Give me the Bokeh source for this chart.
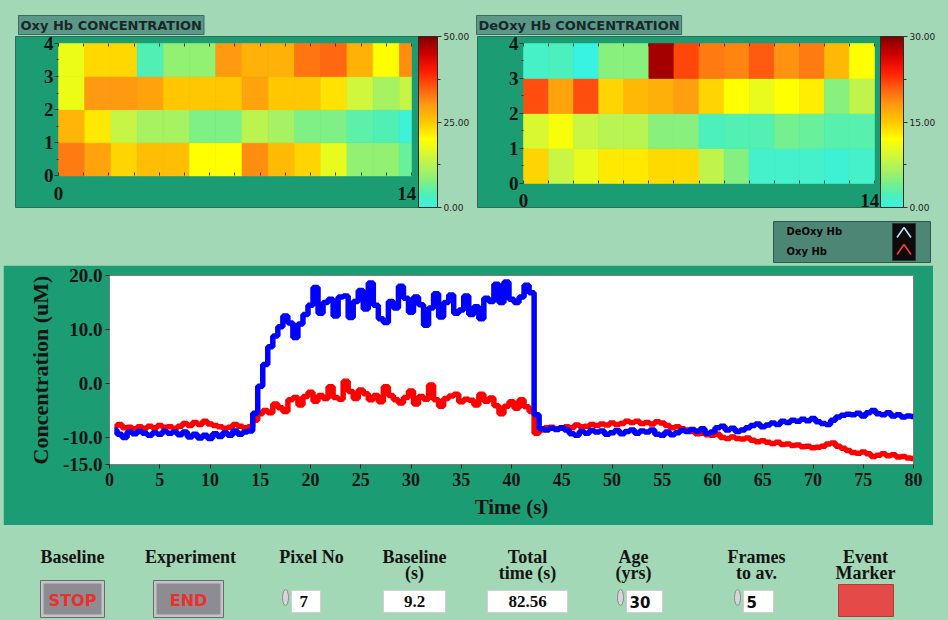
import numpy as np
from bokeh.plotting import figure
from bokeh.models import (Range1d, LinearAxis, FixedTicker, ColorBar, LinearColorMapper,
                          NumeralTickFormatter, Title, Spacer, ColumnDataSource)
from bokeh.layouts import column, row
from bokeh.embed import file_html
from bokeh.resources import INLINE
from bokeh.core.properties import value

# ------------------------------------------------------------------ data
# Oxy Hb intensity map, rows from y=0 (bottom) to y=3 (top), 14 columns
oxy_map = [
    [32.5, 29.0, 24.0, 26.0, 26.0, 20.0, 20.0, 31.0, 26.5, 24.0, 17.5, 9.0, 9.0, 6.0],
    [27.0, 22.0, 14.0, 11.0, 11.0, 7.5, 7.5, 13.0, 11.0, 7.5, 7.5, 5.0, 4.0, 1.0],
    [18.0, 30.0, 30.0, 29.0, 25.0, 25.0, 25.0, 29.0, 25.0, 25.0, 22.5, 15.0, 11.0, 14.0],
    [18.0, 23.5, 23.5, 4.0, 9.0, 9.0, 30.0, 27.5, 27.5, 33.0, 34.0, 27.5, 20.0, 31.0],
]
# DeOxy Hb intensity map, rows from y=0 (bottom) to y=3 (top), 14 columns
deoxy_map = [
    [14.4, 8.5, 10.5, 13.2, 13.2, 14.0, 14.0, 8.0, 4.7, 1.2, 1.2, 1.2, 0.8, 1.3],
    [9.5, 11.5, 8.5, 7.5, 7.5, 5.0, 5.0, 2.0, 2.5, 2.5, 4.0, 3.6, 2.8, 2.8],
    [21.6, 17.4, 21.6, 14.4, 16.0, 16.6, 17.8, 14.4, 12.0, 10.5, 12.0, 13.0, 5.0, 8.0],
    [1.5, 2.1, 0.0, 5.0, 5.0, 28.5, 22.0, 19.5, 19.0, 21.0, 18.3, 19.5, 16.0, 12.0],
]
oxy_scale_max = 50.0
deoxy_scale_max = 30.0
oxy_bar_ticks = [0, 25, 50]
deoxy_bar_ticks = [0, 15, 30]

# time course (uM), one sample every 0.5 s from 0.5 s to 80 s
sample_interval_s = 0.5
deoxy_hb = [
    -8.6, -9.4, -10.0, -9.0, -9.3, -8.9, -9.2, -9.6, -9.1, -9.4,
    -8.9, -9.2, -9.0, -9.5, -9.0, -9.9, -9.4, -10.1, -9.6, -10.2,
    -9.3, -9.8, -9.1, -9.6, -8.8, -9.4, -9.0, -8.8,
    -5.5, -0.5, 3.5, 6.8, 8.8, 10.5, 12.5, 11.2, 8.5, 11.0,
    12.8, 14.5, 17.8, 13.0, 15.0, 15.6, 12.5, 16.0, 16.2, 12.2,
    15.2, 17.2, 13.8, 18.6, 14.5, 12.0, 11.3, 15.2, 14.0, 18.0,
    15.8, 13.2, 16.0, 14.6, 10.8, 14.0, 16.6, 12.3, 15.0, 16.4,
    13.0, 13.6, 16.2, 12.8, 14.2, 12.0, 15.8, 15.2, 18.4, 15.0,
    18.8, 15.6, 15.0, 16.0, 18.2, 16.8,
    -5.8, -8.4, -8.6, -8.3, -8.5, -8.2, -8.6, -9.3, -9.6, -8.9,
    -9.2, -8.7, -9.0, -8.8, -9.4, -9.1, -8.7, -9.3, -8.9, -8.6,
    -9.2, -8.8, -9.0, -8.6, -9.4, -9.6, -9.0, -9.5, -9.1, -8.7,
    -8.9, -8.5, -8.8, -8.4, -9.2, -9.0, -8.2, -7.9, -8.6, -8.3,
    -8.9, -8.6, -8.2, -7.8, -7.5, -8.0, -7.7, -7.3, -7.6, -7.0,
    -7.2, -6.8, -7.0, -6.6, -6.9, -6.5, -7.1, -7.4, -7.6, -6.8,
    -6.2, -5.9, -5.7, -5.8, -5.5, -6.0, -5.4, -5.0, -5.6, -5.8,
    -5.4, -6.0, -5.8, -6.2, -6.0, -6.1,
]
oxy_hb = [
    -8.0, -7.6, -8.2, -8.1, -8.4, -8.0, -8.3, -7.9, -8.2, -7.8,
    -8.1, -8.0, -8.3, -7.9, -7.4, -7.8, -7.2, -7.6, -7.0, -7.5,
    -7.8, -8.0, -8.3, -8.1, -7.6, -7.9, -8.2, -8.0,
    -6.8, -5.6, -5.0, -5.4, -3.8, -4.5, -5.2, -3.0, -2.6, -4.0,
    -2.4, -1.6, -3.3, -2.2, -2.8, -0.6, -2.6, -2.9, 0.4, -1.5,
    -2.8, -1.2, -1.9, -3.0, -2.2, -3.4, -0.6, -2.2, -3.0, -3.6,
    -2.6, -1.4, -3.8, -2.4, -2.9, -0.3, -3.0, -4.2, -2.8, -2.3,
    -2.0, -3.4, -2.9, -3.1, -4.0, -2.0, -3.3, -2.7, -4.1, -5.6,
    -4.2, -3.4, -4.6, -3.0, -4.3, -5.2,
    -9.2, -8.6, -8.2, -8.1, -8.4, -8.3, -8.0, -8.2, -7.7, -8.0,
    -7.9, -7.6, -7.8, -7.5, -7.7, -7.3, -7.6, -7.4, -7.0, -7.2,
    -7.0, -7.4, -7.2, -7.5, -7.1, -7.3, -7.8, -8.2, -8.0, -8.4,
    -8.6, -8.9, -9.3, -9.2, -9.5, -9.6, -9.4, -10.0, -10.2, -9.9,
    -10.2, -10.3, -10.1, -10.5, -10.8, -10.6, -10.9, -11.1, -10.9, -11.3,
    -11.2, -11.5, -11.4, -11.7, -11.6, -11.9, -11.8, -11.6, -11.2, -11.0,
    -11.6, -12.0, -12.4, -12.8, -12.9, -12.7, -13.0, -13.5, -13.3, -13.0,
    -13.4, -13.2, -13.6, -13.5, -13.8, -13.9,
]
n = min(len(deoxy_hb), len(oxy_hb))
deoxy_hb = deoxy_hb[:n]
oxy_hb = oxy_hb[:n]
time_s = [round(sample_interval_s * (i + 1), 2) for i in range(n)]

x_ticks = list(range(0, 81, 5))
y_ticks = [-15, -10, 0, 10, 20]

legend_labels = ["DeOxy Hb", "Oxy Hb"]
control_labels = [["Baseline"], ["Experiment"], ["Pixel No"], ["Baseline", "(s)"],
                  ["Total", "time (s)"], ["Age", "(yrs)"], ["Frames", "to av."], ["Event", "Marker"]]
button_texts = ["STOP", "END"]
field_values = ["7", "9.2", "82.56", "30", "5"]

# ------------------------------------------------------------------ style
LIGHT = "#a3d8b6"
PANEL = "#1c9c72"
SERIF_NAME = "Liberation Serif"
SANS_NAME = "DejaVu Sans"
SERIF = value(SERIF_NAME)
SANS = value(SANS_NAME)
TXT = "#141414"
NBSP = "\u00a0"

anchors = [(0.0, "#38f2e2"), (0.08, "#50f0b4"), (0.17, "#8cf078"), (0.28, "#c8f545"),
           (0.40, "#ffff00"), (0.50, "#ffc800"), (0.60, "#ff9a10"), (0.70, "#ff5c10"),
           (0.80, "#ff1a00"), (0.90, "#cc0000"), (1.0, "#800000")]


def make_palette(anch, k=256):
    fr = np.array([a[0] for a in anch])
    rgb = np.array([[int(c[i:i + 2], 16) for i in (1, 3, 5)] for _, c in anch], float)
    out = []
    for t in np.linspace(0, 1, k):
        r, g, b = (np.interp(t, fr, rgb[:, j]) for j in range(3))
        out.append("#%02x%02x%02x" % (int(round(r)), int(round(g)), int(round(b))))
    return out


PALETTE = make_palette(anchors)


def heat_figure(title_text, grid, vmax, bar_ticks, geom):
    (fig_w, fig_h, b_left, b_right, b_top, b_bottom, xr, yr, cell_w, bar_w, title_off) = geom
    p = figure(width=fig_w, height=fig_h, x_range=Range1d(*xr), y_range=Range1d(*yr),
               toolbar_location=None, output_backend="svg", x_axis_type=None, y_axis_type=None,
               min_border_left=b_left, min_border_right=b_right, min_border_top=b_top,
               min_border_bottom=b_bottom, background_fill_color=PANEL,
               border_fill_color=LIGHT, outline_line_color="#2f6b5a")
    p.grid.visible = False
    left, right, bottom, top, val = [], [], [], [], []
    for j, rowvals in enumerate(grid):
        for i, v in enumerate(rowvals):
            left.append(i * cell_w)
            right.append(min((i + 1) * cell_w, 14.0))
            bottom.append(j)
            top.append(j + 1)
            val.append(v)
    mapper = LinearColorMapper(palette=PALETTE, low=0, high=vmax)
    src = ColumnDataSource(dict(left=left, right=right, bottom=bottom, top=top, val=val))
    p.quad(left="left", right="right", bottom="bottom", top="top", source=src,
           fill_color={"field": "val", "transform": mapper},
           line_color={"field": "val", "transform": mapper}, line_width=0.6)

    yax = LinearAxis(fixed_location=0,
                     ticker=FixedTicker(ticks=[0, 1, 2, 3, 4], minor_ticks=[0.5, 1.5, 2.5, 3.5]),
                     axis_line_color=None, major_tick_out=4, major_tick_in=0,
                     minor_tick_out=2, minor_tick_in=0, major_tick_line_color="#333333",
                     minor_tick_line_color="#333333", major_label_standoff=1,
                     major_label_text_font=SERIF_NAME, major_label_text_font_style="bold",
                     major_label_text_font_size="19px", major_label_text_color=TXT)
    p.add_layout(yax, "left")
    # last label sits right-aligned on its tick, as in the instrument display
    xax = LinearAxis(fixed_location=0, ticker=FixedTicker(ticks=[0, 14]),
                     major_label_overrides={14: "14" + NBSP * 2},
                     axis_line_color=None, major_tick_out=0, major_tick_in=0,
                     minor_tick_out=0, major_label_standoff=7,
                     major_label_text_font=SERIF_NAME, major_label_text_font_style="bold",
                     major_label_text_font_size="19px", major_label_text_color=TXT)
    p.add_layout(xax, "below")
    # small inward tick marks along the top and bottom edges of the map
    for loc, side in ((4, "above"), (0, "below")):
        tax = LinearAxis(fixed_location=loc,
                         ticker=FixedTicker(ticks=list(range(0, 15)), minor_ticks=[]),
                         major_label_overrides={k: "" for k in range(0, 15)},
                         axis_line_color=None, major_tick_out=0, major_tick_in=3,
                         minor_tick_out=0, minor_tick_in=0,
                         major_tick_line_color="#3a3a3a", major_label_text_font_size="1px")
        p.add_layout(tax, side)

    p.title = Title(text=title_text, align="left", offset=title_off, standoff=4,
                    text_font=SANS_NAME, text_font_style="bold", text_font_size="13px",
                    text_color="#17282a", background_fill_color="#5b9888",
                    border_line_color="#3d6d60", padding=2)

    half = [bar_ticks[0] + (bar_ticks[1] - bar_ticks[0]) / 2,
            bar_ticks[1] + (bar_ticks[2] - bar_ticks[1]) / 2]
    cb = ColorBar(color_mapper=mapper, width=bar_w, padding=0, margin=1, location="top_left",
                  ticker=FixedTicker(ticks=bar_ticks, minor_ticks=half),
                  formatter=NumeralTickFormatter(format="0.00"),
                  major_tick_in=0, major_tick_out=4, minor_tick_in=0, minor_tick_out=3,
                  major_tick_line_color="#333333", minor_tick_line_color="#333333",
                  bar_line_color="#2a2a2a", label_standoff=2, background_fill_color=None,
                  major_label_text_font=SANS_NAME, major_label_text_font_size="9px",
                  major_label_text_color="#222222")
    p.add_layout(cb, "right")
    return p


oxy_fig = heat_figure("Oxy Hb CONCENTRATION", oxy_map, oxy_scale_max, oxy_bar_ticks,
                      (474, 215, 15, 56, 35, 7, (-1.705, 14.278), (-0.955, 4.209), 1.04, 19, 3))
deoxy_fig = heat_figure("DeOxy Hb CONCENTRATION", deoxy_map, deoxy_scale_max, deoxy_bar_ticks,
                        (474, 215, 3, 68, 36, 8, (-1.835, 14.239), (-0.686, 4.2), 1.0, 23, -1))

# ------------------------------------------------------------------ legend strip
leg = figure(width=948, height=50, x_range=Range1d(0, 948), y_range=Range1d(265, 215),
             toolbar_location=None, output_backend="svg", x_axis_type=None, y_axis_type=None,
             min_border=0, background_fill_color=LIGHT, border_fill_color=LIGHT,
             outline_line_color=None)
leg.grid.visible = False
leg.quad(left=[773], right=[930], top=[221], bottom=[262], fill_color="#4e8676",
         line_color="#2e5a4e", line_width=1)
leg.text(x=[786, 786], y=[231, 251], text=legend_labels, text_font=SANS, text_font_style="bold",
         text_font_size="10px", text_color="#0a0a0a", text_baseline="middle")
leg.quad(left=[892], right=[915], top=[223], bottom=[260], fill_color="#0c0c0c", line_color="#333333")
chev_cx, chev_cy, chev_w, chev_h = 903.5, [232, 249], 7, 5
leg.multi_line(xs=[[chev_cx - chev_w, chev_cx, chev_cx + chev_w]] * 2,
               ys=[[cy + chev_h, cy - chev_h, cy + chev_h] for cy in chev_cy],
               line_color=["#bfe6ff", "#ff3a3a"], line_width=1.5)

# ------------------------------------------------------------------ main chart
src = ColumnDataSource(dict(t=time_s, deoxy=deoxy_hb, oxy=oxy_hb))
main = figure(width=930, height=260, x_range=Range1d(0, 80), y_range=Range1d(-15, 20),
              toolbar_location=None, output_backend="svg",
              min_border_left=106, min_border_right=20, min_border_top=10, min_border_bottom=61,
              background_fill_color="white", border_fill_color=PANEL,
              outline_line_color="#7d7d7d")
main.grid.visible = False
main.step(x="t", y="oxy", source=src, mode="center", line_color="#ff0000", line_width=5.5)
main.step(x="t", y="deoxy", source=src, mode="center", line_color="#0000ff", line_width=5.5)
main.xaxis.ticker = FixedTicker(ticks=x_ticks)
main.yaxis.ticker = FixedTicker(ticks=y_ticks)
main.yaxis.formatter = NumeralTickFormatter(format="0.0")
main.xaxis.axis_label = "Time (s)"
main.yaxis.axis_label = "Concentration (uM)"
for ax in (main.xaxis, main.yaxis):
    ax.axis_line_color = None
    ax.major_tick_out = 4
    ax.major_tick_in = 0
    ax.minor_tick_out = 0
    ax.minor_tick_in = 0
    ax.major_tick_line_color = "#222222"
    ax.major_label_text_font = SERIF_NAME
    ax.major_label_text_font_style = "bold"
    ax.major_label_text_font_size = "18px"
    ax.major_label_text_color = TXT
    ax.axis_label_text_font = SERIF_NAME
    ax.axis_label_text_font_style = "bold"
    ax.axis_label_text_font_size = "21px"
    ax.axis_label_text_color = TXT
main.yaxis.major_label_text_font_size = "19px"
main.yaxis.axis_label_text_font_size = "22px"
main.xaxis.major_label_standoff = 4
main.xaxis.axis_label_standoff = 6
main.yaxis.major_label_standoff = 3
main.yaxis.axis_label_standoff = 7

# ------------------------------------------------------------------ controls strip
ctl = figure(width=948, height=95, x_range=Range1d(0, 948), y_range=Range1d(620, 525),
             toolbar_location=None, output_backend="svg", x_axis_type=None, y_axis_type=None,
             min_border=0, background_fill_color=LIGHT, border_fill_color=LIGHT,
             outline_line_color=None)
ctl.grid.visible = False
label_x = [72, 190, 311, 414, 527, 633, 756, 865]
line1_y, line2_y = 556, 572
l1 = [lab[0] for lab in control_labels]
l2x = [x for x, lab in zip(label_x, control_labels) if len(lab) > 1]
l2 = [lab[1] for lab in control_labels if len(lab) > 1]
common = dict(text_font=SERIF, text_font_style="bold", text_font_size="18px",
              text_color=TXT, text_align="center", text_baseline="middle")
ctl.text(x=label_x, y=[line1_y] * len(l1), text=l1, **common)
ctl.text(x=l2x, y=[line2_y] * len(l2), text=l2, **common)

# buttons
btn_l, btn_r = [40, 153], [104, 223]
ctl.quad(left=btn_l, right=btn_r, top=[580] * 2, bottom=[617] * 2, fill_color="#c4c4c8",
         line_color="#6a6a6a")
ctl.quad(left=[v + 3 for v in btn_l], right=[v - 3 for v in btn_r], top=[583] * 2,
         bottom=[614] * 2, fill_color="#8d8c92", line_color=None)
ctl.text(x=[(a + b) / 2 for a, b in zip(btn_l, btn_r)], y=[600] * 2, text=button_texts,
         text_font=SANS, text_font_style="bold", text_font_size="16px", text_color="#e8302c",
         text_align="center", text_baseline="middle")

# numeric fields
box_l = [291, 383, 487, 626, 743]
box_r = [320, 445, 567, 662, 773]
ctl.quad(left=box_l, right=box_r, top=[590] * 5, bottom=[612] * 5, fill_color="white",
         line_color="#d0d0d0")
ctl.text(x=[299, 414, 527], y=[601] * 3, text=field_values[:3],
         text_font=SERIF, text_font_style="bold", text_font_size="17px", text_color="#0c0c0c",
         text_align=["left", "center", "center"], text_baseline="middle")
ctl.text(x=[629, 746], y=[601] * 2, text=field_values[3:],
         text_font=SANS, text_font_style="bold", text_font_size="15px", text_color="#0c0c0c",
         text_align="left", text_baseline="middle")
spin_x = [285, 620, 737]
ctl.ellipse(x=spin_x, y=[597] * 3, width=6, height=16, fill_color="#d6d6d6",
            line_color="#8a8a8a", line_width=1)

# event marker
ctl.quad(left=[838], right=[893], top=[584], bottom=[616], fill_color="#e44a48",
         line_color="#b83a38")

# ------------------------------------------------------------------ page
layout = column(row(oxy_fig, deoxy_fig), leg,
                row(Spacer(width=3, height=260), main, Spacer(width=15, height=260)), ctl)

html = file_html(layout, INLINE, title="NIRS monitor")
head_end = html.find("</head>")
bidx = html.find("<body", head_end if head_end >= 0 else 0)
if bidx >= 0:
    html = html[:bidx] + '<body style="background-color:%s;"' % LIGHT + html[bidx + 5:]
open("out.html", "w").write(html)
